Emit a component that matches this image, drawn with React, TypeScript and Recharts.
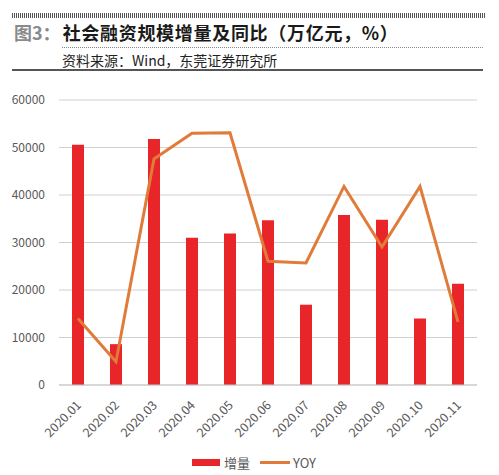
import React from "react";
import { ComposedChart, Bar, Line, XAxis, YAxis, CartesianGrid, Legend } from "recharts";

const months = ["2020.01", "2020.02", "2020.03", "2020.04", "2020.05", "2020.06", "2020.07", "2020.08", "2020.09", "2020.10", "2020.11"];
const increments = [50600, 8600, 51800, 31000, 31900, 34700, 16900, 35800, 34800, 14000, 21300];
const yoy = [14000, 4900, 47600, 53000, 53100, 26050, 25700, 41800, 29050, 41800, 13300];
const yTicks = [0, 10000, 20000, 30000, 40000, 50000, 60000];

const data = months.map((m, i) => ({ month: m, inc: increments[i], yoy: yoy[i] }));

const FONT = '"Noto Sans CJK SC", "Noto Sans", sans-serif';

const XTick = (props: any) => {
  const { x, y, payload } = props;
  return (
    <text
      x={x + 4}
      y={y + 13}
      textAnchor="end"
      transform={`rotate(-45, ${x + 4}, ${y + 13})`}
      fill="#595959"
      fontSize={12.5}
      fontFamily={FONT}
    >
      {payload.value}
    </text>
  );
};

const LegendContent = () => (
  <div style={{ display: "flex", alignItems: "center", justifyContent: "center", fontFamily: FONT, fontSize: 13, color: "#595959", paddingLeft: 22, paddingTop: 8 }}>
    <span style={{ display: "inline-block", width: 28, height: 7, background: "#E8262A", marginRight: 4 }} />
    <span style={{ marginRight: 10 }}>增量</span>
    <span style={{ display: "inline-block", width: 30, height: 3, background: "#E07B39", marginRight: 3 }} />
    <span>YOY</span>
  </div>
);

export default function App() {
  return (
    <div style={{ position: "absolute", left: 0, top: 0, width: 499, height: 475, background: "#fff", fontFamily: FONT }}>
      <div style={{ position: "absolute", left: 12, top: 13, width: 473, height: 5, background: "repeating-linear-gradient(90deg, #555 0px, #555 1px, transparent 1px, transparent 2px)" }} />
      <div style={{ position: "absolute", left: 14, top: 20, fontSize: 18, fontWeight: 700, whiteSpace: "nowrap", lineHeight: "24px" }}>
        <span style={{ color: "#8a8a8a" }}>图3：</span>
        <span style={{ color: "#1a1a1a", marginLeft: 2, letterSpacing: 0.7 }}>社会融资规模增量及同比（万亿元，%）</span>
      </div>
      <div style={{ position: "absolute", left: 62, top: 47, width: 421, borderTop: "1px dotted #888" }} />
      <div style={{ position: "absolute", left: 62, top: 51, fontSize: 14, color: "#222", whiteSpace: "nowrap", lineHeight: "18px" }}>
        资料来源：Wind，东莞证券研究所
      </div>
      <div style={{ position: "absolute", left: 12, top: 69, width: 471, height: 2, background: "#555" }} />
      <div style={{ position: "absolute", left: 0, top: 0 }}>
        <ComposedChart width={499} height={475} data={data} margin={{ top: 100, right: 22, left: 9, bottom: 0 }}>
          <CartesianGrid vertical={false} stroke="#d0d0d0" strokeWidth={1} />
          <XAxis dataKey="month" axisLine={{ stroke: "#c8c8c8" }} tickLine={false} interval={0} height={60} tick={<XTick />} />
          <YAxis domain={[0, 60000]} ticks={yTicks} width={50} axisLine={false} tickLine={false} tickMargin={8} tick={{ fill: "#595959", fontSize: 12, fontFamily: FONT }} />
          <Legend verticalAlign="bottom" height={30} content={<LegendContent />} />
          <Bar dataKey="inc" name="增量" fill="#E8262A" barSize={12} isAnimationActive={false} />
          <Line dataKey="yoy" name="YOY" stroke="#E07B39" strokeWidth={3} dot={false} isAnimationActive={false} />
        </ComposedChart>
      </div>
    </div>
  );
}
